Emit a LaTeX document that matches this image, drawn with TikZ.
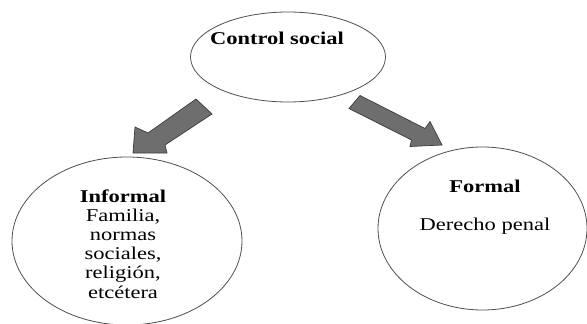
\documentclass[tikz,border=0pt]{standalone}
\usepackage{fontspec}
\setmainfont{Liberation Serif}[FakeStretch=1.25]
\usetikzlibrary{shapes.geometric}
\definecolor{linegray}{HTML}{505050}
\definecolor{arrowfill}{HTML}{6E6E6E}
\definecolor{arrowedge}{HTML}{3C3C3C}
\tikzset{
  oval/.style={draw=linegray, line width=0.8pt, ellipse, inner sep=0pt},
  lbl/.style={anchor=base, inner sep=0pt, font=\fontsize{18}{19.2}\selectfont, text=black},
  blockarrow/.style={fill=arrowfill, draw=arrowedge, line width=0.7pt, line join=miter}
}
\begin{document}
\begin{tikzpicture}[x=1pt,y=-1pt]
\useasboundingbox (0,0) rectangle (587,324);
\fill[white] (0,0) rectangle (587,324);
% ellipses
\node[oval, minimum width=195pt, minimum height=90pt] (top) at (288,57) {};
\node[oval, minimum width=230pt, minimum height=168pt] (left) at (127,241) {};
\node[oval, minimum width=209pt, minimum height=163pt] (right) at (482.5,228.5) {};
% texts
\node[lbl] (toptxt) at (277,45) {\textbf{Control social}};
\node[lbl, align=center] (lefttxt) at (123,298) {\textbf{Informal}\\Familia,\\normas\\sociales,\\religión,\\etcétera};
\node[lbl] (righttxt1) at (485,192) {\textbf{Formal}};
\node[lbl] (righttxt2) at (485,230) {Derecho penal};
% block arrows
\draw[blockarrow] (196,99) -- (212,114) -- (165,145) -- (167,153) -- (133,153) -- (135,127) -- (148,133) -- cycle;
\draw[blockarrow] (360,95.5) -- (349,108.5) -- (411.5,140) -- (410,146.5) -- (442,145) -- (430,121.5) -- (425,128.5) -- cycle;
\end{tikzpicture}
\end{document}
